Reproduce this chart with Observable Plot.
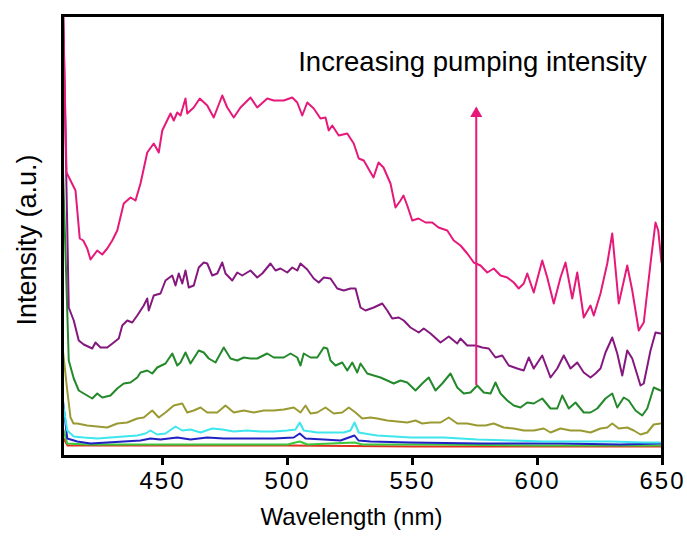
<!DOCTYPE html>
<html>
<head>
<meta charset="utf-8">
<script src="https://cdn.jsdelivr.net/npm/d3@7"></script>
<script src="https://cdn.jsdelivr.net/npm/@observablehq/plot@0.6"></script>
<style>
  html, body { margin: 0; padding: 0; background: #fff; }
  #chart { width: 687px; height: 544px; }
  #chart g[aria-label="x-axis tick label"] text { letter-spacing: 2px; }
</style>
</head>
<body>
<div id="chart"></div>
<script>
// ---- Data (intensity in arbitrary units) ----
const xTicks = [450, 500, 550, 600, 650];
const xLabel = "Wavelength (nm)";
const yLabel = "Intensity (a.u.)";
const annotationText = "Increasing pumping intensity";
const annotationX = 574;
const annotationY = 394;
const arrowX = 575.5;
const arrowFrom = 71;
const arrowTo = 348;

const seriesNames = ["P8", "P7", "P6", "P5", "P4", "P3", "P2", "P1"];
const seriesColors = ["#e6197a", "#85187f", "#23892a", "#9a9a33", "#3ee6ee", "#2222c4", "#3cc83c", "#e0301e"];

const pinkNm = [410, 411.6, 413.2, 415.2, 416.9, 418.3, 419.9, 421.2, 423.9, 425.9, 427.9, 429.9, 431.9, 434.5, 437.2, 439.2, 441.2, 443.9, 446.5, 448.5, 449.9, 453.2, 454.5, 455.9, 457.2, 459.2, 459.9, 462.5, 464.9, 467.9, 470.5, 473.9, 475.9, 478.5, 481.2, 485.2, 487.9, 491.9, 494.5, 498.5, 501.9, 503.9, 505.9, 507.9, 510.5, 513.2, 515.2, 516.5, 517.9, 520.5, 523.9, 526.5, 528.5, 530.5, 534.4, 536.4, 538.4, 541.2, 543.2, 545.2, 546.4, 547.9, 549.9, 552.4, 555.2, 557.9, 560.4, 563.9, 566.5, 569.2, 571.9, 574.5, 577.2, 579.9, 582.5, 585.2, 587.9, 590.5, 592.5, 594.5, 595.9, 598.5, 601.9, 603.9, 606.5, 609.2, 611.2, 613.9, 615.9, 618.5, 621.2, 622.5, 625.2, 627.9, 629.9, 632.5, 635.9, 637.9, 640.5, 642.5, 645.2, 647.2, 648.3, 649.6];
const pinkI = [480, 284, 276, 266, 218, 216, 208, 197, 206, 202, 208, 216, 226, 253, 259, 256, 273, 304, 313, 304, 326, 343, 336, 344, 341, 358, 343, 349, 358, 351, 339, 361, 349, 339, 349, 359, 349, 358, 356, 356, 359, 354, 341, 354, 348, 338, 339, 326, 331, 321, 323, 313, 298, 296, 279, 294, 289, 273, 249, 256, 261, 251, 236, 238, 234, 234, 229, 226, 216, 211, 203, 194, 191, 184, 188, 181, 179, 174, 168, 173, 183, 164, 196, 179, 153, 179, 194, 158, 184, 139, 151, 141, 163, 193, 223, 153, 191, 166, 126, 134, 193, 234, 226, 194];

const purpleNm = [410, 412.5, 414.5, 416.5, 418.5, 421.9, 423.2, 425.2, 427.9, 430.5, 432.5, 433.9, 435.9, 437.9, 439.9, 442.5, 443.9, 444.5, 446.5, 449.2, 451.2, 453.9, 455.2, 456.5, 457.9, 459.2, 460.5, 462.5, 464.5, 466.5, 467.9, 469.9, 471.9, 473.9, 475.2, 477.9, 479.9, 481.9, 485.2, 487.9, 489.9, 493.2, 495.2, 497.2, 499.9, 501.9, 503.9, 505.2, 507.9, 510.5, 512.5, 514.5, 517.2, 519.9, 522.5, 525.2, 527.2, 529.2, 531.2, 534.5, 537.9, 539.9, 541.9, 544.5, 546.5, 549.2, 552.5, 554.5, 557.2, 561.2, 564.5, 567.9, 569.2, 571.9, 575.2, 577.9, 580.5, 583.2, 585.9, 588.5, 591.9, 594.5, 596.5, 598.5, 601.9, 605.2, 607.9, 610.5, 613.2, 615.9, 618.5, 621.2, 623.2, 625.2, 627.2, 629.9, 631.9, 633.9, 635.9, 637.9, 641.2, 642.5, 645.2, 647.2, 649.2];
const purpleI = [480, 149, 136, 116, 112, 108, 114, 109, 109, 114, 118, 131, 136, 134, 141, 151, 158, 146, 161, 163, 176, 181, 171, 183, 173, 186, 169, 171, 189, 194, 193, 181, 183, 194, 183, 176, 184, 181, 186, 179, 183, 193, 186, 188, 184, 189, 186, 193, 187, 178, 174, 179, 178, 168, 166, 168, 168, 149, 146, 149, 153, 146, 138, 139, 136, 129, 124, 128, 123, 114, 120, 113, 118, 111, 111, 109, 108, 99, 101, 91, 88, 86, 99, 88, 101, 79, 88, 101, 88, 94, 84, 79, 83, 88, 104, 119, 103, 81, 106, 98, 71, 73, 106, 124, 123];

const greenNm = [410, 412.5, 414.5, 416.5, 418.5, 421.9, 423.9, 425.9, 429.2, 431.9, 434.5, 437.2, 439.9, 441.2, 443.9, 445.9, 447.9, 451.2, 453.9, 455.9, 457.2, 459.2, 461.2, 464.5, 466.5, 468.5, 471.2, 474.5, 477.2, 479.9, 482.5, 485.2, 487.9, 491.9, 494.5, 498.5, 501.2, 503.9, 505.2, 506.5, 509.2, 511.9, 514.5, 515.9, 517.2, 519.2, 521.9, 523.9, 525.9, 527.9, 529.2, 531.9, 534.5, 537.2, 539.9, 542.5, 545.2, 547.9, 551.2, 553.9, 556.5, 559.2, 561.9, 565.2, 567.9, 570.5, 573.2, 575.9, 578.5, 581.2, 583.2, 585.2, 587.9, 590.5, 593.2, 595.9, 598.5, 601.9, 605.2, 607.9, 609.9, 612.5, 615.2, 618.5, 621.2, 623.9, 627.2, 629.9, 631.9, 634.5, 636.5, 639.2, 641.9, 643.9, 646.5, 649.2];
const greenI = [303, 96, 78, 66, 63, 58, 63, 59, 61, 68, 73, 74, 79, 84, 86, 83, 89, 93, 103, 91, 94, 104, 93, 106, 104, 98, 94, 109, 98, 96, 99, 98, 98, 103, 99, 99, 103, 99, 91, 103, 99, 99, 109, 108, 96, 91, 94, 86, 94, 84, 93, 83, 81, 79, 76, 73, 76, 74, 66, 73, 79, 66, 73, 83, 69, 63, 64, 71, 64, 63, 74, 63, 56, 51, 49, 54, 53, 58, 48, 48, 61, 48, 54, 44, 44, 48, 58, 63, 49, 59, 56, 46, 41, 48, 69, 66];

const oliveNm = [410, 411.9, 413.2, 414.4, 415.9, 419.9, 423.9, 427.9, 431.9, 435.9, 439.9, 442.5, 445.9, 448.5, 451.2, 454.5, 457.9, 459.9, 462.5, 465.2, 467.9, 471.9, 475.2, 478.5, 482.5, 486.5, 490.5, 494.5, 498.5, 502.5, 505.2, 507.2, 509.2, 511.9, 515.2, 518.5, 521.9, 524.5, 527.2, 529.9, 533.2, 535.9, 539.9, 543.9, 547.9, 551.2, 553.9, 557.2, 561.2, 564.5, 567.9, 571.9, 575.9, 579.2, 582.5, 586.5, 590.5, 594.5, 598.5, 602.5, 605.2, 609.2, 613.2, 617.2, 621.2, 625.2, 627.9, 629.9, 632.5, 635.9, 638.5, 641.2, 643.9, 646.5, 649.2];
const oliveI = [110, 66, 39, 33, 33, 31, 30, 29, 33, 34, 38, 39, 46, 39, 44, 51, 53, 44, 46, 49, 44, 44, 51, 44, 46, 44, 46, 46, 47, 49, 44, 51, 43, 44, 49, 43, 44, 49, 44, 38, 39, 38, 36, 35, 34, 36, 33, 34, 34, 39, 33, 33, 31, 31, 33, 29, 28, 26, 26, 28, 24, 28, 26, 26, 24, 28, 29, 33, 28, 29, 26, 22, 24, 32, 33];

const cyanNm = [410, 411.9, 414.5, 418.5, 423.9, 429.2, 434.5, 439.9, 443.2, 445.2, 447.9, 451.2, 455.2, 457.9, 461.2, 465.2, 469.9, 473.9, 478.5, 483.9, 489.2, 494.5, 499.9, 503.2, 504.9, 506.5, 511.9, 517.2, 522.5, 525.2, 526.8, 528.5, 533.2, 535.9, 549.2, 562.5, 575.9, 589.2, 602.5, 615.9, 629.2, 642.5, 649.2];
const cyanI = [56, 26, 20, 19, 18, 19, 20, 21, 23, 26, 22, 23, 30, 26, 27, 24, 28, 27, 25, 26, 25, 25, 26, 27, 34, 26, 24, 24, 24, 26, 34, 24, 22, 21, 19, 19, 17, 16, 15, 15, 15, 14, 14];

const blueNm = [410, 411.9, 415.9, 421.2, 427.9, 434.5, 441.2, 445.2, 449.2, 455.9, 461.2, 467.9, 474.5, 481.2, 487.9, 494.5, 502.5, 504.9, 507.2, 514.5, 521.2, 526.8, 528.4, 533.2, 549.2, 577.2, 609.2, 633.2, 649.2];
const blueI = [60, 18, 15, 13, 14, 15, 16, 18, 17, 19, 17, 19, 18, 18, 18, 18, 19, 23, 18, 17, 16, 21, 16, 15, 14, 13, 13, 12, 13];

const lightGreenNm = [410, 411.9, 420, 440, 460, 480, 500, 504.9, 508, 526.8, 530, 560, 600, 630, 650];
const lightGreenI = [30, 13, 12, 12, 12, 12, 12, 15, 12, 14, 12, 12, 11, 11, 11];

const redNm = [410, 412, 450, 500, 550, 600, 650];
const redI = [20, 11, 11, 11, 10, 10, 10];

// ---- Build tables ----
const seriesNm = [pinkNm, purpleNm, greenNm, oliveNm, cyanNm, blueNm, lightGreenNm, redNm];
const seriesI = [pinkI, purpleI, greenI, oliveI, cyanI, blueI, lightGreenI, redI];
const seriesData = seriesNm.map((xs, k) => xs.map((x, i) => ({x, y: seriesI[k][i]})));

// draw lower-intensity curves first so the top curve sits above
const lineMarks = [];
for (let k = seriesData.length - 1; k >= 0; k--) {
  lineMarks.push(Plot.line(seriesData[k], {x: "x", y: "y", stroke: seriesColors[k], strokeWidth: 2, clip: true}));
}

const arrowData = [{x: arrowX, y1: arrowFrom, y2: arrowTo}];

const chart = Plot.plot({
  width: 687,
  height: 544,
  marginTop: 15,
  marginRight: 25,
  marginBottom: 88,
  marginLeft: 62,
  style: {fontFamily: "'Liberation Sans', Arial, sans-serif", fontSize: "24px", color: "black", background: "white"},
  x: {domain: [410, 650]},
  y: {domain: [0, 441], axis: null},
  marks: [
    ...lineMarks,
    Plot.ruleX(arrowData, {x: "x", y1: "y1", y2: "y2", stroke: seriesColors[0], strokeWidth: 2}),
    Plot.dot(arrowData, {x: "x", y: "y2", symbol: "triangle", r: 4.5, dy: 5, fill: seriesColors[0], stroke: "none"}),
    Plot.text([annotationText], {x: () => annotationX, y: () => annotationY, text: d => d, fontSize: 27.5, fill: "black"}),
    Plot.frame({stroke: "black", strokeWidth: 3}),
    Plot.axisX({ticks: xTicks, tickSize: 9, tickPadding: 6, strokeWidth: 3, fontSize: 24, label: null, tickFormat: d => String(d)}),
    Plot.text([xLabel], {frameAnchor: "bottom", textAnchor: "middle", lineAnchor: "middle", dx: -11, dy: 61, fontSize: 24, fill: "black"}),
    Plot.text([yLabel], {frameAnchor: "left", textAnchor: "middle", lineAnchor: "middle", rotate: -90, dx: -35, dy: 4, fontSize: 27, fill: "black"})
  ]
});
document.getElementById("chart").appendChild(chart);
</script>
</body>
</html>
